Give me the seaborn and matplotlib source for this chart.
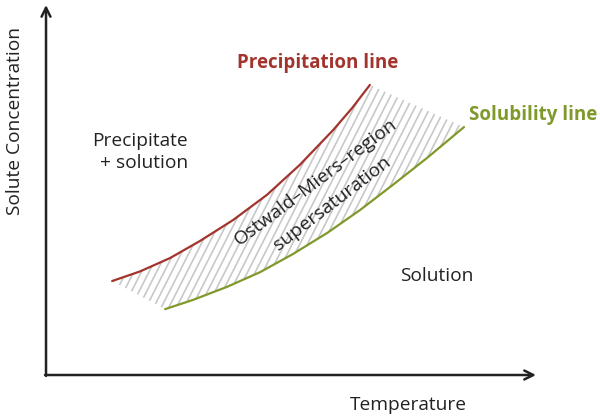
import numpy as np
import pandas as pd
import seaborn as sns
import matplotlib.pyplot as plt
from matplotlib.patches import Polygon

# curves (temperature, concentration in arbitrary 0-100 units)
precip_t = [13.5, 19.2, 25.3, 31.4, 38.2, 45.1, 51.8, 58.6, 62.5, 66.1]
precip_c = [25.4, 28.0, 31.6, 36.2, 41.9, 48.7, 56.8, 66.2, 72.2, 78.4]
solub_t = [24.3, 30.0, 36.9, 43.7, 50.4, 57.4, 64.1, 70.8, 77.8, 85.3]
solub_c = [17.8, 20.3, 23.8, 27.8, 32.7, 38.4, 44.6, 51.4, 58.7, 67.0]

red = "#a3342d"
green = "#7f9a2a"
dark = "#222222"

sns.set_theme(style="white")
plt.rcParams["font.family"] = ["Open Sans", "DejaVu Sans"]

fig = plt.figure(figsize=(6, 4.19), dpi=100)
ax = fig.add_axes([0, 0, 1, 1])

df_p = pd.DataFrame({"t": precip_t, "c": precip_c})
df_s = pd.DataFrame({"t": solub_t, "c": solub_c})

# hatched supersaturation band between the two curves
poly = Polygon(list(zip(precip_t, precip_c)) + list(zip(solub_t, solub_c))[::-1],
               closed=True, facecolor="none", edgecolor="none")
ax.add_patch(poly)
slope = 2.6
for x0 in np.arange(-30, 100, 1.55):
    xs = np.array([x0, x0 + 40])
    ln, = ax.plot(xs, slope * (xs - x0), color="#c8c8c8", lw=1.2, zorder=1)
    ln.set_clip_path(poly)

sns.lineplot(data=df_p, x="t", y="c", sort=False, color=red, lw=1.6, ax=ax, zorder=3)
sns.lineplot(data=df_s, x="t", y="c", sort=False, color=green, lw=1.6, ax=ax, zorder=3)
for l in ax.lines:
    l.set_solid_joinstyle("round")
ax.set_xlim(-9.39, 113.06)
ax.set_ylim(-11.89, 101.35)
ax.axis("off")

# axes with arrows
arr = dict(arrowstyle="->", lw=1.8, color=dark, mutation_scale=16, shrinkA=0, shrinkB=0)
ax.annotate("", xy=(100, 0), xytext=(-0.2, 0), arrowprops=arr)
ax.annotate("", xy=(0, 100), xytext=(0, -0.25), arrowprops=arr)

fs = 13.8
ax.text(73.9, -8.1, "Temperature", ha="center", va="center", fontsize=fs, color=dark)
ax.text(-6.3, 68.6, "Solute Concentration", ha="center", va="center", rotation=90,
        fontsize=fs, color=dark)

ax.text(55.5, 84.3, "Precipitation line", ha="center", va="center", fontsize=13.5,
        fontweight="bold", color=red)
ax.text(86.3, 70.3, "Solubility line", ha="left", va="center", fontsize=13.5,
        fontweight="bold", color=green)
ax.text(29.0, 60.3, "Precipitate\n+ solution", ha="right", va="center", fontsize=fs,
        color=dark, multialignment="right", linespacing=1.3)
ax.text(79.8, 26.8, "Solution", ha="center", va="center", fontsize=fs, color=dark)
ax.text(55.1, 52.2, "Ostwald–Miers–region", ha="center", va="center", rotation=37,
        fontsize=fs, color=dark, rotation_mode="anchor")
ax.text(58.4, 46.5, "supersaturation", ha="center", va="center", rotation=37.5,
        fontsize=fs, color=dark, rotation_mode="anchor")

fig.savefig("out.png", dpi=100)
